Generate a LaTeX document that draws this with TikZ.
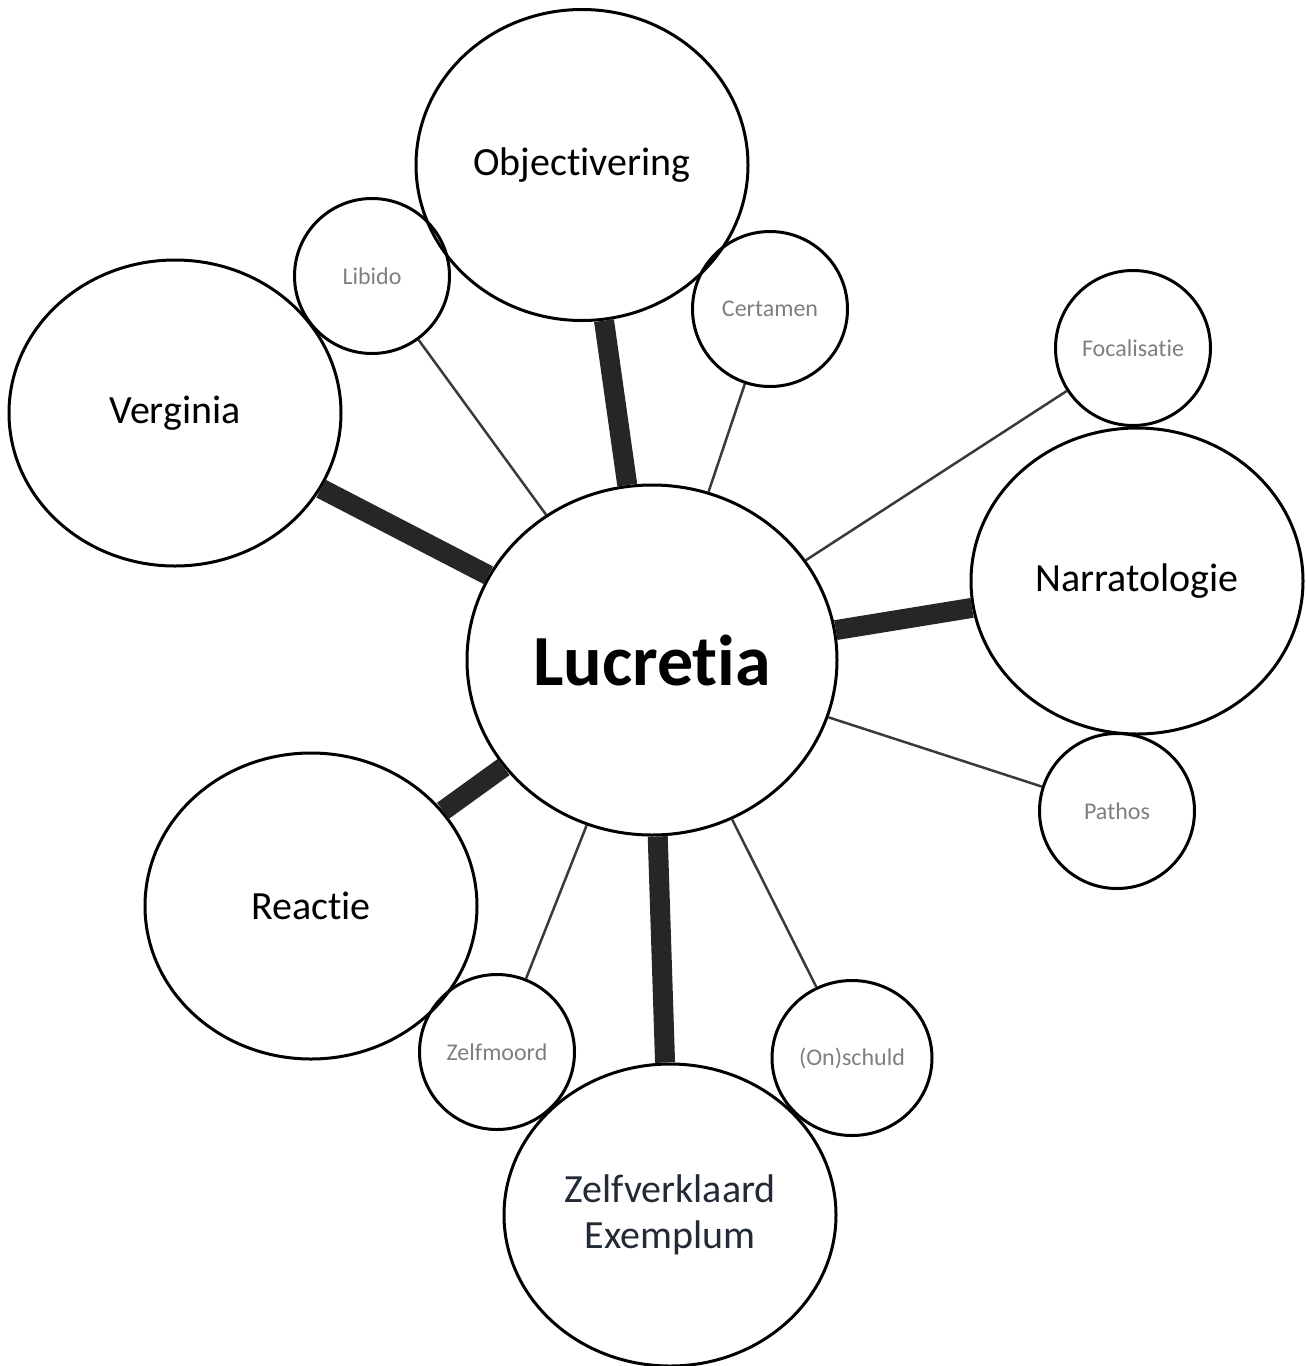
\documentclass[tikz,border=0pt]{standalone}
\usepackage{fontspec}
\setmainfont[Ligatures=NoCommon]{Carlito}
\usetikzlibrary{shapes.geometric}
\definecolor{linkgray}{RGB}{38,38,38}
\definecolor{thingray}{RGB}{58,58,58}
\definecolor{smallgray}{RGB}{127,127,127}
\definecolor{slate}{RGB}{34,42,53}
\begin{document}
\begin{tikzpicture}[x=0.5pt,y=-0.5pt,
  bubble/.style={ellipse,draw,line width=1.5pt,inner sep=0pt,align=center},
  bigbubble/.style={bubble,minimum width=166pt,minimum height=153pt,font=\fontsize{20}{23}\selectfont},
  smallbubble/.style={bubble,minimum width=77.5pt,minimum height=77.5pt,text=smallgray,font=\fontsize{12}{14}\selectfont},
  thicklink/.style={color=linkgray,line width=10pt},
  thinlink/.style={color=thingray,line width=1.25pt}]
\useasboundingbox (0,0) rectangle (1306,1366);
\node[bubble,minimum width=185pt,minimum height=175pt,font=\fontsize{36}{43}\selectfont\bfseries] (luc) at (652,660) {Lucretia};
\node[bigbubble,minimum height=155.5pt] (obj) at (582,165) {Objectivering};
\node[bigbubble] (verg) at (175,413) {Verginia};
\node[bigbubble] (narr) at (1137,581) {Narratologie};
\node[bigbubble] (reac) at (311,906) {Reactie};
\node[bigbubble,minimum height=151pt,text=slate] (exem) at (670,1215) {Zelfverklaard\\Exemplum};
\node[smallbubble] (lib) at (372,276) {Libido};
\node[smallbubble] (cert) at (770,309) {Certamen};
\node[smallbubble] (foc) at (1133,348) {Focalisatie};
\node[smallbubble] (path) at (1117,811) {Pathos};
\node[smallbubble] (zelfm) at (497,1052) {Zelfmoord};
\node[smallbubble,minimum width=80pt] (onsch) at (852,1058) {(On)schuld};
\foreach \n in {obj,verg,narr,reac,exem}{
\draw[thicklink] (luc)--(\n);
}
\foreach \n in {lib,cert,foc,path,zelfm,onsch}{
\draw[thinlink] (luc)--(\n);
}
\end{tikzpicture}
\end{document}
